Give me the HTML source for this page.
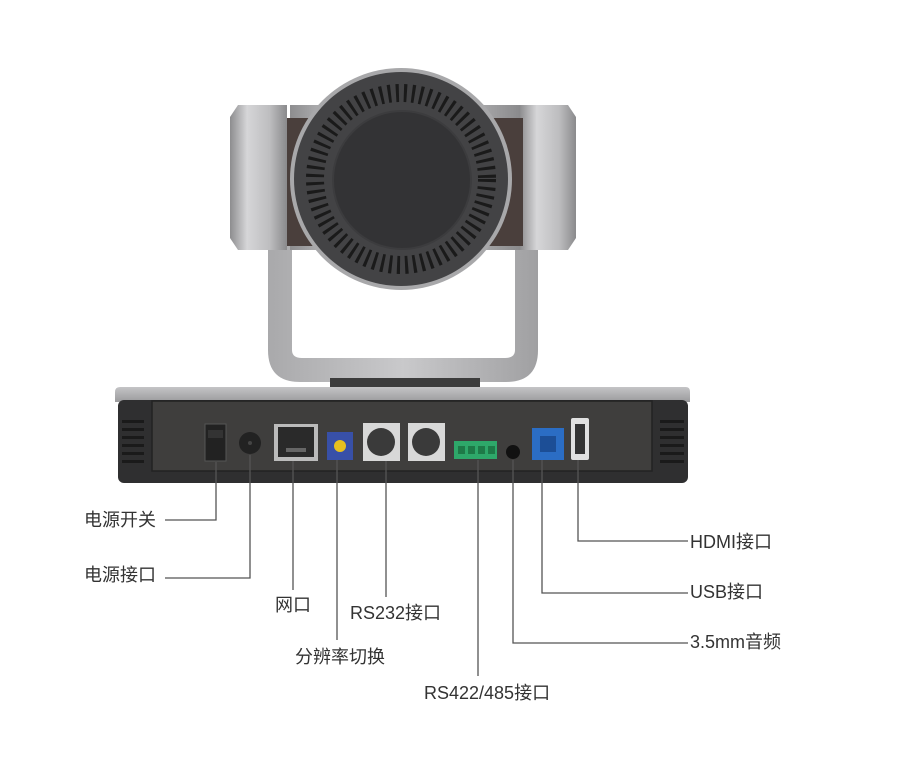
<!DOCTYPE html>
<html><head><meta charset="utf-8"><style>
html,body{margin:0;padding:0;background:#fff;width:915px;height:782px;overflow:hidden}
svg{display:block}
text{font-family:"Liberation Sans","Noto Sans CJK SC",sans-serif;font-size:18px;fill:#333}
</style></head><body>
<svg width="915" height="782" viewBox="0 0 915 782">
<defs>
<linearGradient id="cyl" x1="0" y1="0" x2="1" y2="0">
<stop offset="0" stop-color="#8d8d8f"/><stop offset="0.3" stop-color="#d6d6d8"/><stop offset="0.7" stop-color="#bdbdbf"/><stop offset="1" stop-color="#8a8a8c"/>
</linearGradient>
<linearGradient id="br" x1="0" y1="0" x2="1" y2="0">
<stop offset="0" stop-color="#a9a9ab"/><stop offset="0.5" stop-color="#c9c9cb"/><stop offset="1" stop-color="#a0a0a2"/>
</linearGradient>
<linearGradient id="top" x1="0" y1="0" x2="0" y2="1">
<stop offset="0" stop-color="#c4c4c6"/><stop offset="1" stop-color="#9a9a9c"/>
</linearGradient>
</defs>
<path d="M268 240 L268 350 Q268 382 300 382 L506 382 Q538 382 538 350 L538 240 L515 240 L515 350 Q515 358 505 358 L302 358 Q292 358 292 350 L292 240 Z" fill="url(#br)"/>
<path d="M238 105 L287 105 L287 250 L238 250 L230 238 L230 117 Z" fill="url(#cyl)"/>
<path d="M520 105 L568 105 L576 117 L576 238 L568 250 L520 250 Z" fill="url(#cyl)"/>
<rect x="290" y="105" width="230" height="145" fill="url(#cyl)"/>
<rect x="287" y="118" width="236" height="128" fill="#4a3f3c"/>
<circle cx="401" cy="179" r="111" fill="#a8a8aa"/>
<circle cx="401" cy="179" r="107" fill="#434345"/>
<circle cx="401" cy="179" r="86" fill="none" stroke="#1a1a1a" stroke-width="18" stroke-dasharray="3 5"/>
<circle cx="402" cy="180" r="69" fill="#333335" stroke="#3c3c3e" stroke-width="2"/>
<rect x="330" y="378" width="150" height="10" fill="#3c3c3c"/>
<path d="M120 387 L686 387 Q690 387 690 392 L690 402 L115 402 L115 392 Q115 387 120 387Z" fill="url(#top)"/>
<rect x="118" y="400" width="570" height="83" rx="6" fill="#2f2f30"/>
<rect x="152" y="401" width="500" height="70" fill="#3f3e3d" stroke="#222" stroke-width="1.5"/>
<g fill="#1a1a1a">
<rect x="122" y="420" width="22" height="3"/><rect x="122" y="428" width="22" height="3"/><rect x="122" y="436" width="22" height="3"/><rect x="122" y="444" width="22" height="3"/><rect x="122" y="452" width="22" height="3"/><rect x="122" y="460" width="22" height="3"/>
<rect x="660" y="420" width="24" height="3"/><rect x="660" y="428" width="24" height="3"/><rect x="660" y="436" width="24" height="3"/><rect x="660" y="444" width="24" height="3"/><rect x="660" y="452" width="24" height="3"/><rect x="660" y="460" width="24" height="3"/>
</g>
<rect x="205" y="424" width="21" height="37" fill="#222" stroke="#555"/>
<rect x="208" y="430" width="15" height="8" fill="#333"/>
<circle cx="250" cy="443" r="11" fill="#222"/><circle cx="250" cy="443" r="2" fill="#444"/>
<rect x="274" y="424" width="44" height="37" fill="#bbb"/>
<rect x="278" y="427" width="36" height="30" fill="#2a2a2a"/>
<rect x="286" y="448" width="20" height="4" fill="#666"/>
<rect x="327" y="432" width="26" height="28" fill="#3850a8"/>
<circle cx="340" cy="446" r="6" fill="#e6c020"/>
<rect x="363" y="423" width="37" height="38" fill="#d8d8d8"/>
<circle cx="381" cy="442" r="14" fill="#3a3a3a"/>
<rect x="408" y="423" width="37" height="38" fill="#d8d8d8"/>
<circle cx="426" cy="442" r="14" fill="#3a3a3a"/>
<rect x="454" y="441" width="43" height="18" fill="#2ea86a"/>
<g fill="#1e7a48"><rect x="458" y="446" width="7" height="8"/><rect x="468" y="446" width="7" height="8"/><rect x="478" y="446" width="7" height="8"/><rect x="488" y="446" width="7" height="8"/></g>
<circle cx="513" cy="452" r="7" fill="#111"/>
<rect x="532" y="428" width="32" height="32" fill="#2b6dc4"/>
<rect x="540" y="436" width="16" height="16" fill="#1c4e96"/>
<rect x="571" y="418" width="18" height="42" rx="2" fill="#e0e0e0"/>
<rect x="575" y="424" width="10" height="30" fill="#333"/>
<g fill="none" stroke="#555" stroke-width="1.3">
<polyline points="216,462 216,520 165,520"/>
<polyline points="250,455 250,578 165,578"/>
<polyline points="293,461 293,590"/>
<polyline points="337,460 337,640"/>
<polyline points="386,461 386,597"/>
<polyline points="478,460 478,676"/>
<polyline points="513,460 513,643 688,643"/>
<polyline points="542,460 542,593 688,593"/>
<polyline points="578,460 578,541 688,541"/>
</g>
<text x="84" y="526">电源开关</text>
<text x="84" y="581">电源接口</text>
<text x="275" y="611">网口</text>
<text x="350" y="619">RS232接口</text>
<text x="295" y="663">分辨率切换</text>
<text x="424" y="699">RS422/485接口</text>
<text x="690" y="648">3.5mm音频</text>
<text x="690" y="598">USB接口</text>
<text x="690" y="548">HDMI接口</text>
</svg>
</body></html>
